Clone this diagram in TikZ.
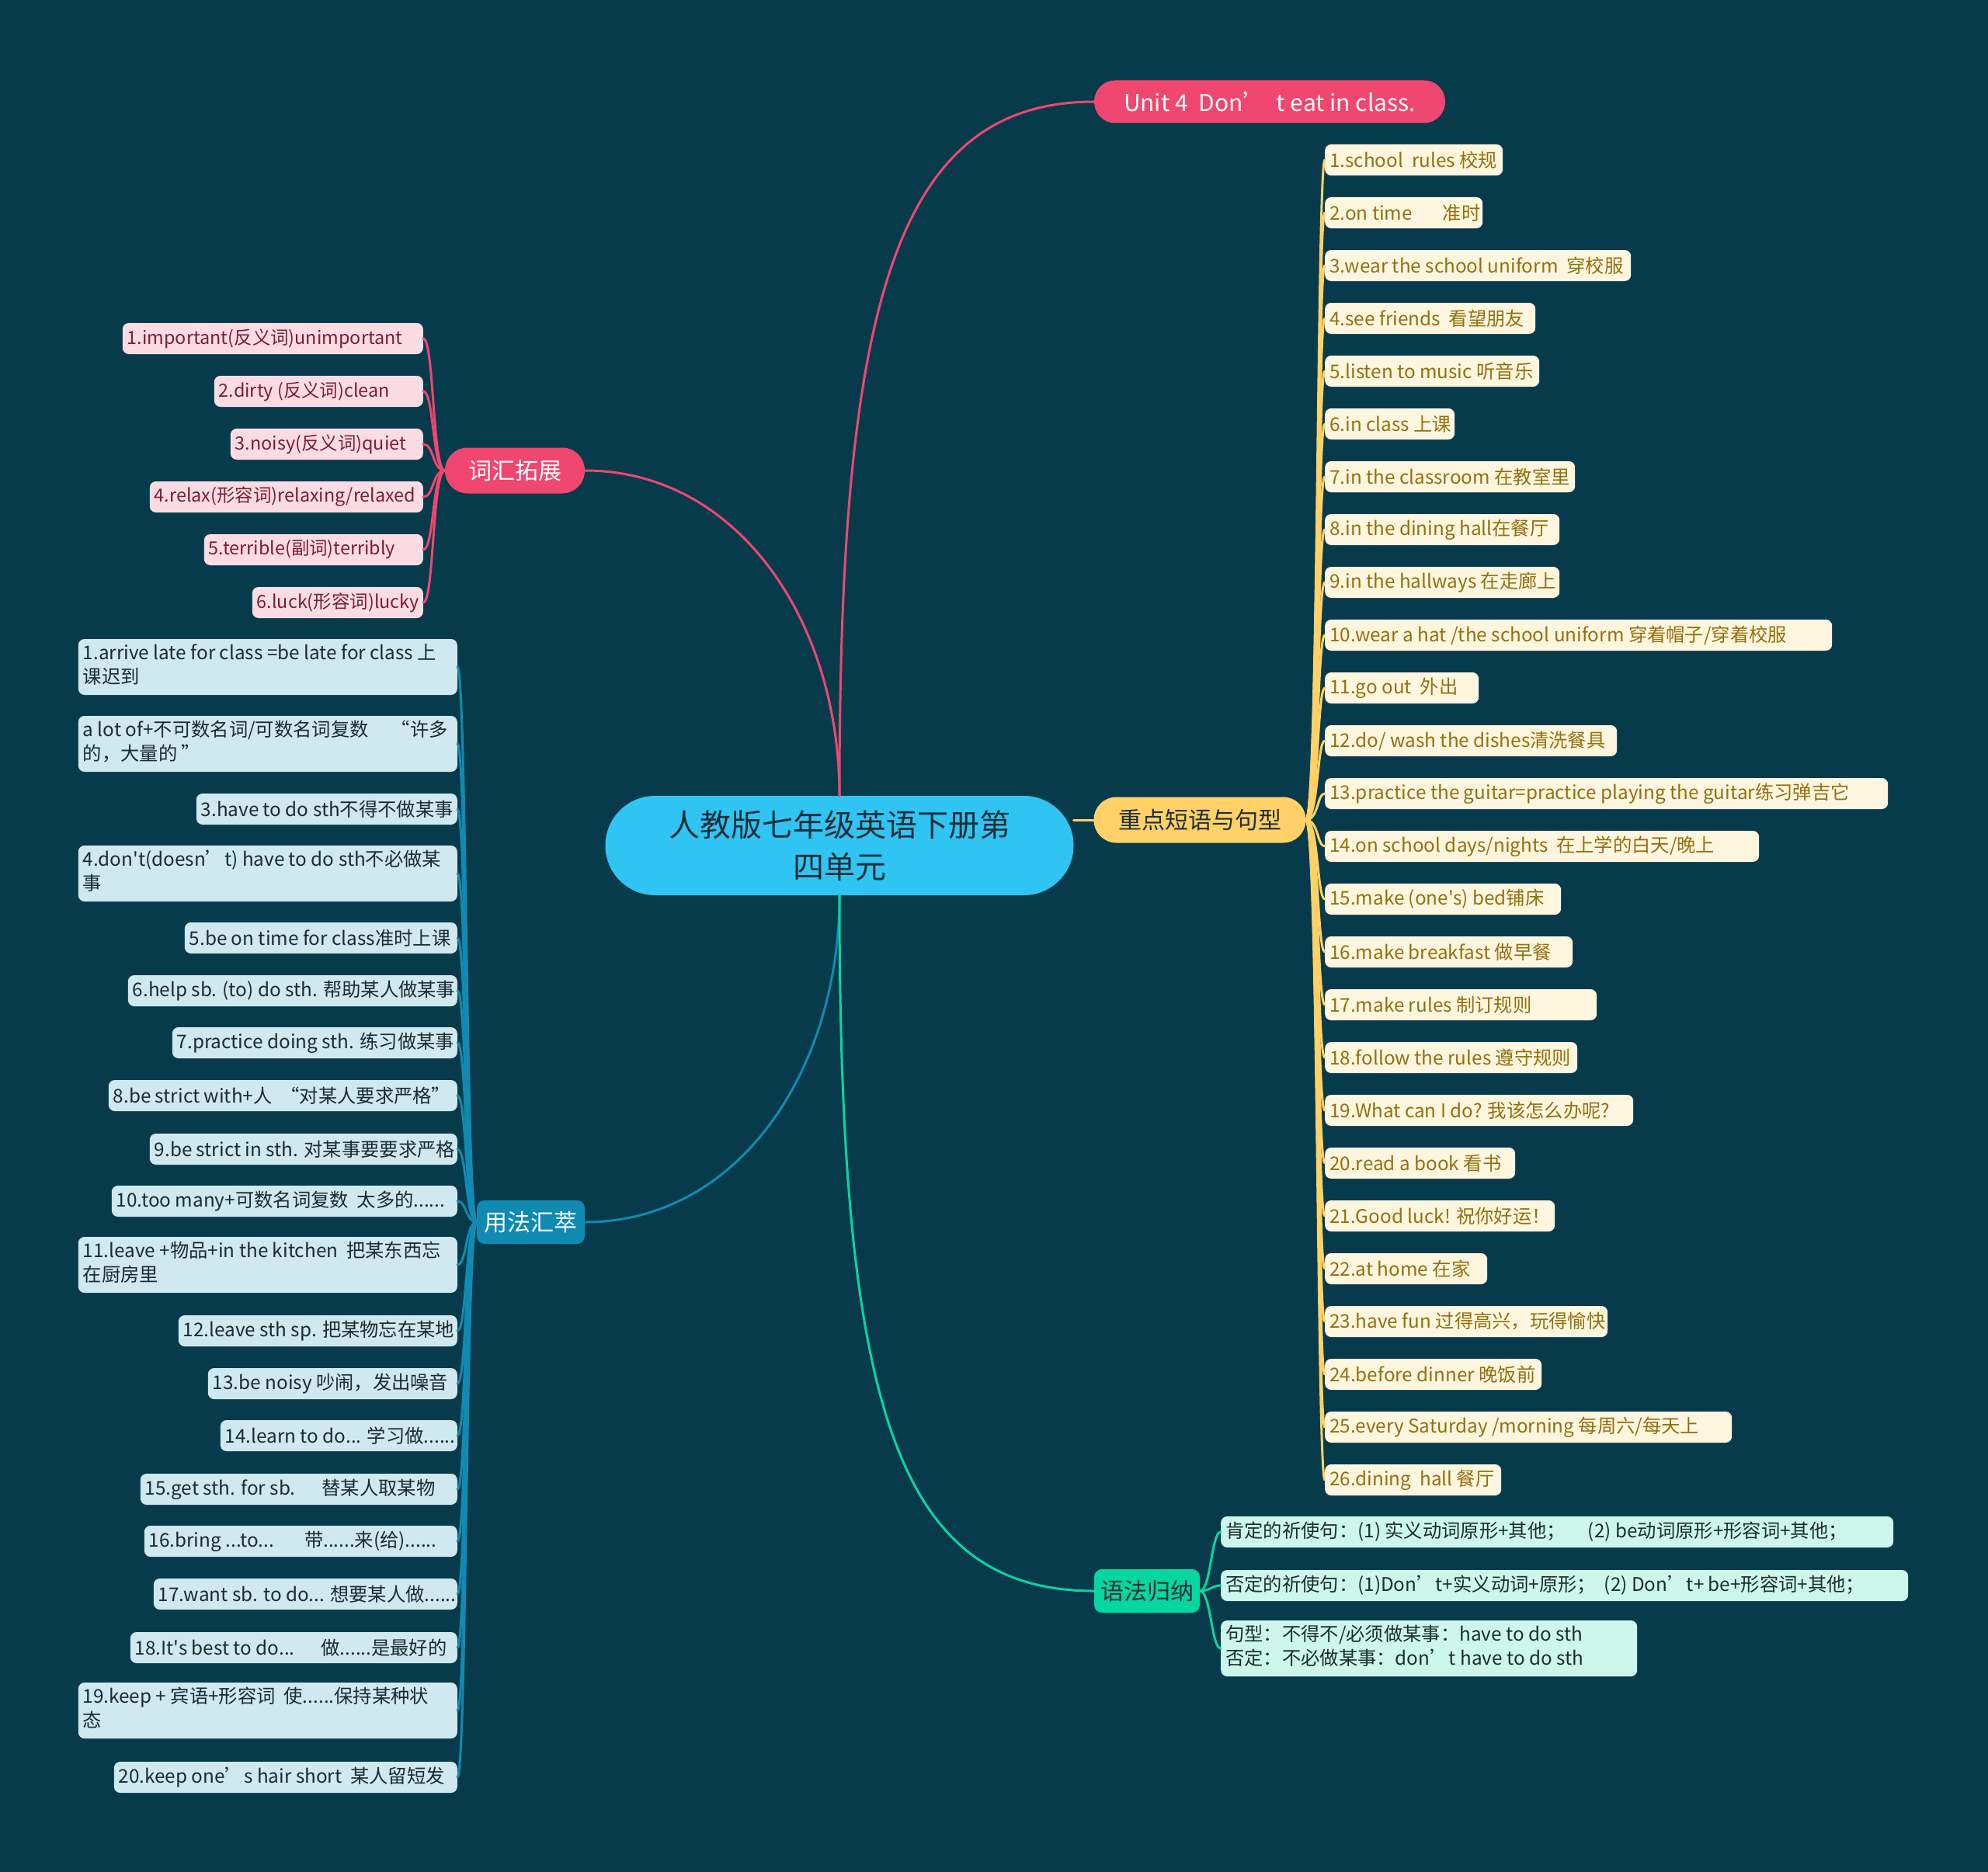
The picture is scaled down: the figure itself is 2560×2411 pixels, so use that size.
\documentclass[tikz,border=0pt]{standalone}
\usepackage{fontspec}
\setmainfont{Noto Sans CJK SC}[Ligatures=TeXOff]
\definecolor{bg}{HTML}{073B4C}
\definecolor{cRed}{HTML}{EF476F}
\definecolor{cYel}{HTML}{FFD166}
\definecolor{cGrn}{HTML}{06D6A0}
\definecolor{cBlu}{HTML}{118AB2}
\definecolor{cCen}{HTML}{30C4F3}
\definecolor{tDark}{HTML}{1E2F38}
\definecolor{pFill}{HTML}{FCDCE3}
\definecolor{pText}{HTML}{7A1F33}
\definecolor{yFill}{HTML}{FFF6DF}
\definecolor{yText}{HTML}{93700F}
\definecolor{bFill}{HTML}{D0E8F0}
\definecolor{bText}{HTML}{1B2A33}
\definecolor{gFill}{HTML}{CDF7EC}
\definecolor{gText}{HTML}{1B2E2B}
\newcommand\lb[2]{\makebox[\dimexpr#1pt-12pt\relax][l]{#2}}
\newcommand\twol[2]{\begin{tabular}{@{}l@{}}#1\\#2\end{tabular}}
\tikzset{
  leaf/.style={rounded corners=8pt, inner xsep=6pt, inner ysep=5pt, minimum height=40pt, font=\fontsize{24.3}{31}\selectfont},
  pleaf/.style={leaf, fill=pFill, text=pText, anchor=east, font=\fontsize{23.4}{31}\selectfont},
  yleaf/.style={leaf, fill=yFill, text=yText, anchor=west},
  bleaf/.style={leaf, fill=bFill, text=bText, anchor=east},
  gleaf/.style={leaf, fill=gFill, text=gText, anchor=west},
  mainnode/.style={inner sep=0pt, font=\fontsize{30}{36}\selectfont},
  con/.style={line width=3pt, line cap=round},
  pcon/.style={con, draw=cRed},
  ycon/.style={con, draw=cYel},
  bcon/.style={con, draw=cBlu},
  gcon/.style={con, draw=cGrn}
}
\begin{document}
\begin{tikzpicture}[x=1pt,y=-1pt]
\useasboundingbox (0,0) rectangle (2560,2411);
\fill[bg] (0,0) rectangle (2560,2411);

% main nodes
\node[fill=cCen, text=tDark, rounded corners=64pt, minimum width=603pt, minimum height=128pt, inner sep=0pt, align=center, font=\fontsize{40}{54}\selectfont] (c) at (1081,1089) {人教版七年级英语下册第\\四单元};
\node[mainnode, fill=cRed, text=white, rounded corners=27pt, minimum width=452pt, minimum height=55pt] (u) at (1635,131) {Unit 4\ \ Don’\ \ t eat in class.};
\node[mainnode, fill=cRed, text=white, rounded corners=29pt, minimum width=180pt, minimum height=59pt] (v) at (663,606) {词汇拓展};
\node[mainnode, fill=cYel, text=tDark, rounded corners=29pt, minimum width=273pt, minimum height=59pt] (z) at (1545,1056) {重点短语与句型};
\node[mainnode, fill=cBlu, text=white, rounded corners=10pt, minimum width=139pt, minimum height=56pt] (b) at (683.5,1574) {用法汇萃};
\node[mainnode, fill=cGrn, text=tDark, rounded corners=10pt, minimum width=136pt, minimum height=56pt] (g) at (1477,2049) {语法归纳};

% main connectors
\draw[pcon] (c.north) .. controls (1081,400) and (1150,131) .. (u.west);
\draw[pcon] (c.north) .. controls (1081,800) and (950,606) .. (v.east);
\draw[ycon] (c.east |- z.west) -- (z.west);
\draw[bcon] (c.south) .. controls (1081,1380) and (950,1574) .. (b.east);
\draw[gcon] (c.south) .. controls (1081,1800) and (1150,2049) .. (g.west);

% pink leaves
\node[pleaf] (p1) at (545,436) {\lb{387}{1.important(反义词)unimportant}};
\node[pleaf] (p2) at (545,504) {\lb{269}{2.dirty (反义词)clean}};
\node[pleaf] (p3) at (545,572) {\lb{248}{3.noisy(反义词)quiet}};
\node[pleaf] (p4) at (545,640) {\lb{352}{4.relax(形容词)relaxing/relaxed}};
\node[pleaf] (p5) at (545,708) {\lb{282}{5.terrible(副词)terribly}};
\node[pleaf] (p6) at (545,776) {\lb{220}{6.luck(形容词)lucky}};
\foreach \i in {1,...,6} \draw[pcon] (v.west) .. controls +(-16,0) and +(14,0) .. (p\i.east);

% yellow leaves
\node[yleaf] (y1) at (1706,206) {\lb{229}{1.school\ \ rules 校规}};
\node[yleaf] (y2) at (1706,274) {\lb{203}{2.on time\hspace{1.6em}准时}};
\node[yleaf] (y3) at (1706,342) {\lb{394}{3.wear the school uniform\ \ 穿校服}};
\node[yleaf] (y4) at (1706,410) {\lb{271}{4.see friends\ \ 看望朋友}};
\node[yleaf] (y5) at (1706,478) {\lb{276}{5.listen to music 听音乐}};
\node[yleaf] (y6) at (1706,546) {\lb{167}{6.in class 上课}};
\node[yleaf] (y7) at (1706,614) {\lb{322}{7.in the classroom 在教室里}};
\node[yleaf] (y8) at (1706,682) {\lb{302}{8.in the dining hall在餐厅}};
\node[yleaf] (y9) at (1706,750) {\lb{302}{9.in the hallways 在走廊上}};
\node[yleaf] (y10) at (1706,818) {\lb{653}{10.wear a hat /the school uniform 穿着帽子/穿着校服}};
\node[yleaf] (y11) at (1706,886) {\lb{198}{11.go out\ \ 外出}};
\node[yleaf] (y12) at (1706,954) {\lb{376}{12.do/ wash the dishes清洗餐具}};
\node[yleaf] (y13) at (1706,1022) {\lb{725}{13.practice the guitar=practice playing the guitar练习弹吉它}};
\node[yleaf] (y14) at (1706,1090) {\lb{559}{14.on school days/nights\ \ 在上学的白天/晚上}};
\node[yleaf] (y15) at (1706,1158) {\lb{304}{15.make (one's) bed铺床}};
\node[yleaf] (y16) at (1706,1226) {\lb{319}{16.make breakfast 做早餐}};
\node[yleaf] (y17) at (1706,1294) {\lb{350}{17.make rules 制订规则}};
\node[yleaf] (y18) at (1706,1362) {\lb{325}{18.follow the rules 遵守规则}};
\node[yleaf] (y19) at (1706,1430) {\lb{397}{19.What can I do? 我该怎么办呢?}};
\node[yleaf] (y20) at (1706,1498) {\lb{245}{20.read a book 看书}};
\node[yleaf] (y21) at (1706,1566) {\lb{296}{21.Good luck! 祝你好运！}};
\node[yleaf] (y22) at (1706,1634) {\lb{209}{22.at home 在家}};
\node[yleaf] (y23) at (1706,1702) {\lb{364}{23.have fun 过得高兴，玩得愉快}};
\node[yleaf] (y24) at (1706,1770) {\lb{279}{24.before dinner 晚饭前}};
\node[yleaf] (y25) at (1706,1838) {\lb{524}{25.every Saturday /morning 每周六/每天上}};
\node[yleaf] (y26) at (1706,1906) {\lb{227}{26.dining\ \ hall 餐厅}};
\foreach \i in {1,...,26} \draw[ycon] (z.east) .. controls +(16,0) and +(-10,0) .. (y\i.west);

% blue leaves
\node[bleaf] (b1) at (589,859) {\lb{488}{\twol{1.arrive late for class =be late for class 上}{课迟到}}};
\node[bleaf] (b2) at (589,958) {\lb{488}{\twol{a lot of+不可数名词/可数名词复数\hspace{1.2em}“许多}{的，大量的 ”}}};
\node[bleaf] (b3) at (589,1042) {\lb{336}{3.have to do sth不得不做某事}};
\node[bleaf] (b4) at (589,1125) {\lb{488}{\twol{4.don't(doesn’t) have to do sth不必做某}{事}}};
\node[bleaf] (b5) at (589,1208) {\lb{351}{5.be on time for class准时上课}};
\node[bleaf] (b6) at (589,1276) {\lb{424}{6.help sb. (to) do sth. 帮助某人做某事}};
\node[bleaf] (b7) at (589,1343) {\lb{367}{7.practice doing sth. 练习做某事}};
\node[bleaf] (b8) at (589,1411) {\lb{449}{8.be strict with+人\ \ “对某人要求严格”}};
\node[bleaf] (b9) at (589,1480) {\lb{396}{9.be strict in sth. 对某事要要求严格}};
\node[bleaf] (b10) at (589,1547) {\lb{445}{10.too many+可数名词复数\ \ 太多的......}};
\node[bleaf] (b11) at (589,1629) {\lb{488}{\twol{11.leave +物品+in the kitchen\ \ 把某东西忘}{在厨房里}}};
\node[bleaf] (b12) at (589,1714) {\lb{359}{12.leave sth sp. 把某物忘在某地}};
\node[bleaf] (b13) at (589,1782) {\lb{321}{13.be noisy 吵闹，发出噪音}};
\node[bleaf] (b14) at (589,1849) {\lb{305}{14.learn to do... 学习做......}};
\node[bleaf] (b15) at (589,1918) {\lb{408}{15.get sth. for sb.\hspace{1.4em}替某人取某物}};
\node[bleaf] (b16) at (589,1985) {\lb{403}{16.bring ...to...\hspace{1.6em}带......来(给)......}};
\node[bleaf] (b17) at (589,2053) {\lb{391}{17.want sb. to do... 想要某人做......}};
\node[bleaf] (b18) at (589,2122) {\lb{421}{18.It's best to do...\hspace{1.4em}做......是最好的}};
\node[bleaf] (b19) at (589,2203) {\lb{488}{\twol{19.keep + 宾语+形容词\ \ 使......保持某种状}{态}}};
\node[bleaf] (b20) at (589,2289) {\lb{442}{20.keep one’s hair short\ \ 某人留短发}};
\foreach \i in {1,...,20} \draw[bcon] (b.west) .. controls +(-14,0) and +(12,0) .. (b\i.east);

% green leaves
\node[gleaf] (g1) at (1572,1973) {\lb{866}{肯定的祈使句：(1) 实义动词原形+其他；\hspace{1.2em}(2) be动词原形+形容词+其他；}};
\node[gleaf] (g2) at (1572,2042) {\lb{885}{否定的祈使句：(1)Don’t+实义动词+原形；\ \ (2) Don’t+ be+形容词+其他；}};
\node[gleaf] (g3) at (1572,2123) {\lb{536}{\twol{句型：不得不/必须做某事：have to do sth}{否定：不必做某事：don’t have to do sth}}};
\foreach \i in {1,...,3} \draw[gcon] (g.east) .. controls +(14,0) and +(-12,0) .. (g\i.west);

\end{tikzpicture}
\end{document}
